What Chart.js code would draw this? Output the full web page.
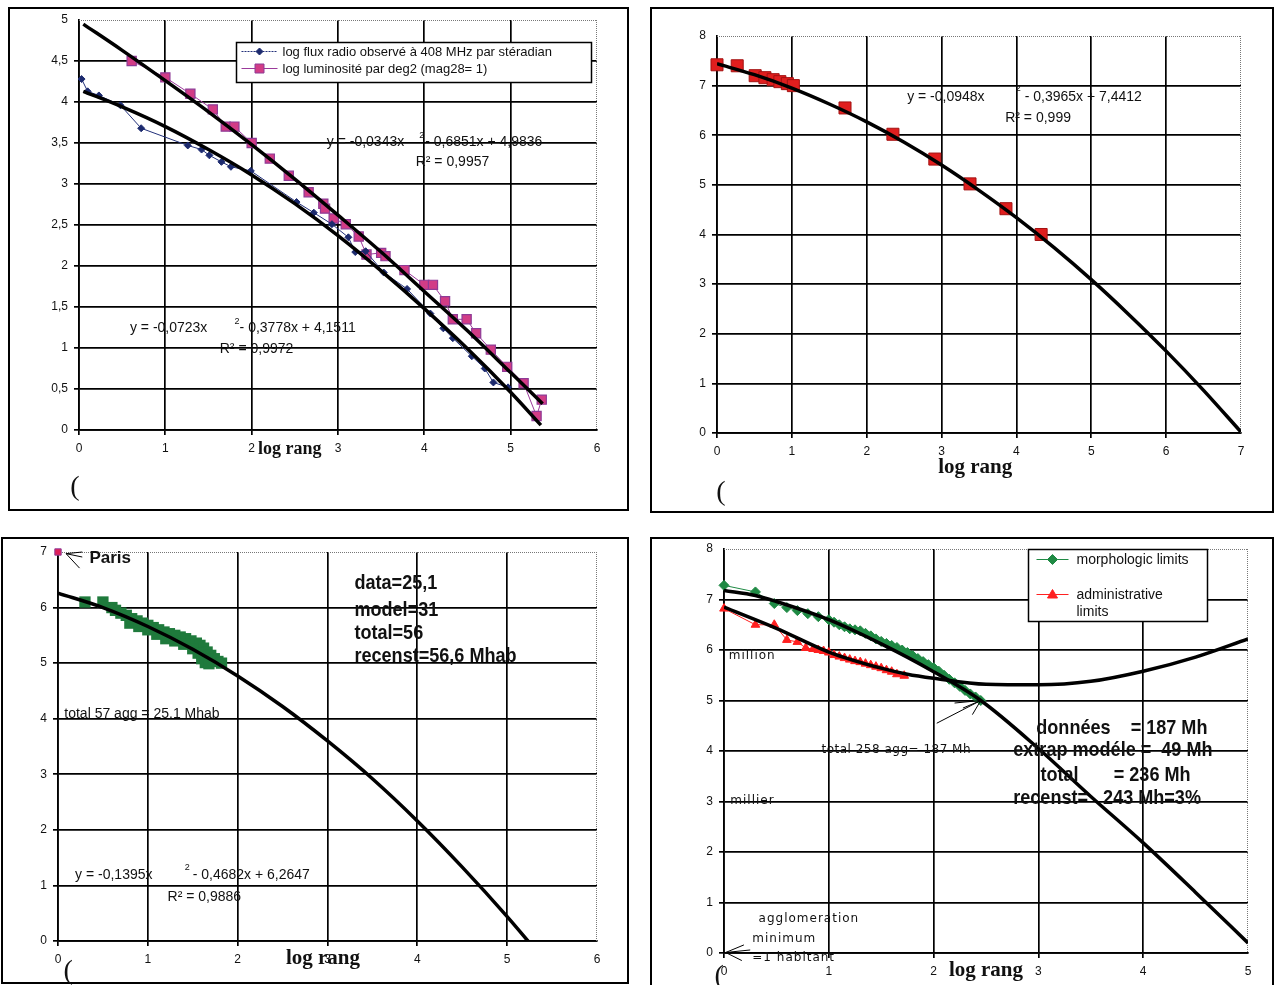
<!DOCTYPE html>
<html>
<head>
<meta charset="utf-8">
<script src="https://cdn.jsdelivr.net/npm/chart.js@4.4.1/dist/chart.umd.min.js"></script>
<style>
  body { margin: 0; background: #fff; width: 1275px; height: 985px; overflow: hidden; position: relative; }
  .box { position: absolute; border: 2px solid #000; box-sizing: border-box; }
  canvas { position: absolute; }
</style>
</head>
<body>
<div class="box" style="left:8px;top:7px;width:621px;height:504px"></div>
<div class="box" style="left:650px;top:7px;width:624px;height:506px"></div>
<div class="box" style="left:1px;top:537px;width:628px;height:447px"></div>
<div class="box" style="left:650px;top:537px;width:624px;height:452px"></div>
<canvas id="c1"></canvas>
<canvas id="c2"></canvas>
<canvas id="c3"></canvas>
<canvas id="c4"></canvas>
<script>
// ---- panel 1 : radio flux / luminosity against log rank
const radioX = [0.03, 0.1, 0.23, 0.48, 0.72, 1.26, 1.42, 1.51, 1.65, 1.76, 1.99, 2.52, 2.72, 2.93, 3.12, 3.2, 3.32, 3.53, 3.8, 4.07, 4.22, 4.33, 4.55, 4.7, 4.8, 4.97];
const radioY = [4.28, 4.13, 4.08, 3.96, 3.68, 3.47, 3.42, 3.35, 3.27, 3.21, 3.16, 2.78, 2.65, 2.51, 2.35, 2.17, 2.18, 1.92, 1.72, 1.42, 1.24, 1.12, 0.9, 0.75, 0.58, 0.52];
const radioFitX = [0.05, 0.5, 1, 1.5, 2, 2.5, 3, 3.5, 4, 4.5, 5, 5.35];
const radioFitY = [4.13, 3.94, 3.70, 3.42, 3.11, 2.76, 2.37, 1.94, 1.48, 0.99, 0.46, 0.06];
const lumX = [0.61, 1.0, 1.29, 1.55, 1.7, 1.8, 2.0, 2.21, 2.43, 2.66, 2.83, 2.85, 2.95, 3.09, 3.24, 3.33, 3.5, 3.55, 3.77, 4.0, 4.1, 4.24, 4.33, 4.49, 4.6, 4.77, 4.96, 5.15, 5.3, 5.36];
const lumY = [4.5, 4.3, 4.1, 3.91, 3.7, 3.7, 3.5, 3.31, 3.1, 2.9, 2.76, 2.7, 2.58, 2.51, 2.36, 2.14, 2.16, 2.12, 1.95, 1.77, 1.77, 1.57, 1.35, 1.35, 1.18, 0.98, 0.77, 0.57, 0.17, 0.37];
const lumFitX = [0.05, 0.5, 1, 1.5, 2, 2.5, 3, 3.5, 4, 4.5, 5, 5.37];
const lumFitY = [4.95, 4.63, 4.26, 3.88, 3.48, 3.06, 2.62, 2.17, 1.69, 1.21, 0.70, 0.32];
const p1xTicks = ['0', '1', '2', '3', '4', '5', '6'];
const p1yTicks = ['0', '0,5', '1', '1,5', '2', '2,5', '3', '3,5', '4', '4,5', '5'];

// ---- panel 2
const cityX = [0, 0.27, 0.51, 0.64, 0.75, 0.84, 0.94, 1.02, 1.71, 2.35, 2.91, 3.38, 3.86, 4.33];
const cityY = [7.42, 7.4, 7.2, 7.16, 7.12, 7.08, 7.04, 7.0, 6.55, 6.02, 5.52, 5.02, 4.52, 4.0];
const cityFitX = [0, 0.5, 1, 1.5, 2, 2.5, 3, 3.5, 4, 4.5, 5, 5.5, 6, 6.5, 7];
const cityFitY = [7.44, 7.22, 6.95, 6.63, 6.27, 5.86, 5.40, 4.89, 4.34, 3.74, 3.09, 2.39, 1.65, 0.86, 0.02];
const p2xTicks = ['0', '1', '2', '3', '4', '5', '6', '7'];
const p2yTicks = ['0', '1', '2', '3', '4', '5', '6', '7', '8'];

// ---- panel 3 : France
const franceX = [0.3, 0.5, 0.6, 0.64, 0.7, 0.76, 0.82, 0.88, 0.94, 1.0, 1.06, 1.12, 1.18, 1.24, 1.3, 1.36, 1.42, 1.48, 1.54, 1.58, 1.62, 1.66, 1.7, 1.74, 1.78, 1.82, 0.8, 0.9, 1.0, 1.1, 1.2, 1.3, 1.4, 1.5, 1.56, 1.6, 1.64, 1.68];
const franceY = [6.1, 6.1, 6.0, 5.95, 5.9, 5.86, 5.8, 5.76, 5.72, 5.68, 5.64, 5.6, 5.56, 5.53, 5.5, 5.47, 5.44, 5.4, 5.36, 5.32, 5.27, 5.2, 5.14, 5.08, 5.03, 5.0, 5.72, 5.66, 5.6, 5.52, 5.44, 5.4, 5.34, 5.26, 5.18, 5.08, 5.01, 4.99];
const parisX = [0];
const parisY = [7.0];
const franceFitX = [0, 0.5, 1, 1.5, 2, 2.5, 3, 3.5, 4, 4.5, 5, 5.3];
const franceFitY = [6.26, 6.00, 5.66, 5.25, 4.77, 4.22, 3.60, 2.92, 2.16, 1.33, 0.44, -0.13];
const p3xTicks = ['0', '1', '2', '3', '4', '5', '6'];
const p3yTicks = ['0', '1', '2', '3', '4', '5', '6', '7'];

// ---- panel 4 : morphologic vs administrative limits
const morphX = [0, 0.3, 0.48, 0.6, 0.7, 0.8, 0.9, 1.0, 1.05, 1.1, 1.15, 1.2, 1.25, 1.3, 1.35, 1.4, 1.45, 1.5, 1.55, 1.6, 1.65, 1.7, 1.75, 1.8, 1.85, 1.9, 1.95, 2.0, 2.05, 2.1, 2.15, 2.2, 2.25, 2.3, 2.35, 2.4, 2.45];
const morphY = [7.28, 7.15, 6.92, 6.84, 6.78, 6.72, 6.66, 6.6, 6.55, 6.5, 6.46, 6.42, 6.4, 6.38, 6.33, 6.28, 6.22, 6.17, 6.13, 6.09, 6.05, 6.0, 5.95, 5.89, 5.83, 5.77, 5.71, 5.65, 5.58, 5.5, 5.42, 5.35, 5.28, 5.2, 5.13, 5.07, 5.0];
const adminX = [0, 0.3, 0.48, 0.6, 0.7, 0.78, 0.85, 0.9, 0.95, 1.0, 1.05, 1.1, 1.15, 1.2, 1.25, 1.3, 1.35, 1.4, 1.45, 1.5, 1.55, 1.6, 1.65, 1.72];
const adminY = [6.82, 6.5, 6.5, 6.2, 6.16, 6.04, 6.02, 6.0, 5.98, 5.95, 5.9, 5.87, 5.84, 5.81, 5.78, 5.76, 5.73, 5.7, 5.67, 5.64, 5.6, 5.57, 5.52, 5.49];
const morphFitX = [0, 0.3, 0.5, 1, 1.5, 2, 2.45, 3, 3.5, 4, 4.5, 5];
const morphFitY = [7.18, 7.08, 6.96, 6.6, 6.12, 5.57, 5.0, 4.05, 3.1, 2.18, 1.2, 0.2];
const adminFitX = [0, 0.5, 1, 1.5, 1.75, 2, 2.5, 3, 3.5, 4, 4.5, 5];
const adminFitY = [6.85, 6.43, 5.96, 5.64, 5.52, 5.44, 5.32, 5.31, 5.38, 5.58, 5.86, 6.22];
const p4xTicks = ['0', '1', '2', '3', '4', '5'];
const p4yTicks = ['0', '1', '2', '3', '4', '5', '6', '7', '8'];

const SANS = '"Liberation Sans", Arial, sans-serif';
const SERIF = '"Liberation Serif", "Times New Roman", serif';
const VERD = '"DejaVu Sans", Verdana, sans-serif';
const YW = 50, PT = 10, PR = 16, XH = 75;

function pts(xs, ys) {
  return xs.map((x, i) => ({ x: x, y: ys[i] }));
}

function marker(ctx, style, x, y, r, fill, stroke) {
  ctx.beginPath();
  if (style === 'rect') {
    ctx.rect(x - r, y - r, 2 * r, 2 * r);
  } else if (style === 'rectRot') {
    ctx.moveTo(x, y - r); ctx.lineTo(x + r, y); ctx.lineTo(x, y + r); ctx.lineTo(x - r, y); ctx.closePath();
  } else {
    ctx.moveTo(x, y - r); ctx.lineTo(x + r, y + r * 0.7); ctx.lineTo(x - r, y + r * 0.7); ctx.closePath();
  }
  ctx.fillStyle = fill; ctx.fill();
  ctx.strokeStyle = stroke; ctx.lineWidth = 1; ctx.stroke();
}

// dotted top/right frame like the old spreadsheet charts
const framePlugin = {
  id: 'frame',
  beforeDatasetsDraw(chart) {
    const ctx = chart.ctx, a = chart.chartArea;
    ctx.save();
    ctx.strokeStyle = '#777';
    ctx.lineWidth = 1;
    ctx.setLineDash([1, 1]);
    ctx.beginPath();
    ctx.moveTo(a.left, a.top + 0.5); ctx.lineTo(a.right, a.top + 0.5);
    ctx.moveTo(a.right - 0.5, a.top); ctx.lineTo(a.right - 0.5, a.bottom);
    ctx.stroke();
    ctx.restore();
  }
};

function notes(cfg) {
  return {
    id: 'notes',
    afterDraw(chart) {
      const ctx = chart.ctx;
      const px = v => chart.scales.x.getPixelForValue(v);
      const py = v => chart.scales.y.getPixelForValue(v);
      ctx.save();
      (cfg.arrows || []).forEach(a => {
        ctx.strokeStyle = '#000';
        ctx.lineWidth = 1;
        ctx.beginPath();
        a.tails.forEach(t => {
          ctx.moveTo(px(a.tip[0]), py(a.tip[1]));
          ctx.lineTo(px(t[0]), py(t[1]));
        });
        ctx.stroke();
      });
      (cfg.texts || []).forEach(t => {
        ctx.save();
        ctx.font = t.font;
        ctx.fillStyle = t.color || '#111';
        ctx.letterSpacing = t.spacing || '0px';
        ctx.textAlign = t.align || 'left';
        ctx.textBaseline = 'middle';
        ctx.translate(px(t.at[0]), py(t.at[1]));
        ctx.scale(t.sx || 1, 1);
        ctx.fillText(t.text, 0, 0);
        ctx.restore();
      });
      const lg = cfg.legend;
      if (lg) {
        const x1 = Math.round(px(lg.box[0])) + 0.5, y1 = Math.round(py(lg.box[1])) + 0.5;
        const x2 = Math.round(px(lg.box[2])) + 0.5, y2 = Math.round(py(lg.box[3])) + 0.5;
        ctx.fillStyle = '#fff';
        ctx.fillRect(x1, y1, x2 - x1, y2 - y1);
        ctx.strokeStyle = '#000';
        ctx.lineWidth = 1.5;
        ctx.strokeRect(x1, y1, x2 - x1, y2 - y1);
        lg.items.forEach(it => {
          const y = y1 + it.dy;
          ctx.strokeStyle = it.lineColor;
          ctx.lineWidth = 1;
          ctx.setLineDash(it.dash || []);
          ctx.beginPath();
          ctx.moveTo(x1 + lg.lineFrom, y); ctx.lineTo(x1 + lg.lineTo, y);
          ctx.stroke();
          ctx.setLineDash([]);
          marker(ctx, it.style, x1 + (lg.lineFrom + lg.lineTo) / 2, y, it.r, it.fill, it.stroke);
          ctx.font = lg.font;
          ctx.fillStyle = '#111';
          ctx.textAlign = 'left';
          ctx.textBaseline = 'middle';
          it.text.forEach((line, k) => ctx.fillText(line, x1 + lg.textAt, y + 1 + k * lg.lineGap));
        });
      }
      ctx.restore();
    }
  };
}

function axis(min, max, step, labels, isX) {
  return {
    type: 'linear',
    min: min,
    max: max,
    ticks: {
      stepSize: step,
      autoSkip: false,
      maxRotation: 0,
      padding: 6,
      color: '#111',
      font: { family: SANS, size: 12 },
      callback: (v, i) => labels[i]
    },
    grid: {
      color: c => (c.tick && Math.abs(c.tick.value - max) < 1e-9) ? 'rgba(0,0,0,0)' : '#000',
      lineWidth: 1.7,
      tickLength: 5
    },
    border: { color: '#000', width: 1.7 },
    afterFit: s => {
      if (isX) { s.height = XH; s.paddingLeft = 0; s.paddingRight = 0; }
      else { s.width = YW; s.paddingTop = 0; s.paddingBottom = 0; }
    }
  };
}

function panel(id, area, xr, yr, xLabels, yLabels, datasets, cfg) {
  const canvas = document.getElementById(id);
  canvas.width = area.R - area.L + YW + PR;
  canvas.height = area.B - area.T + PT + XH;
  canvas.style.left = (area.L - YW) + 'px';
  canvas.style.top = (area.T - PT) + 'px';
  return new Chart(canvas.getContext('2d'), {
    type: 'scatter',
    data: { datasets: datasets },
    options: {
      responsive: false,
      animation: false,
      devicePixelRatio: 1,
      events: [],
      layout: { padding: { left: 0, top: PT, right: PR, bottom: 0 } },
      plugins: { legend: { display: false }, tooltip: { enabled: false } },
      scales: {
        x: axis(xr[0], xr[1], 1, xLabels, true),
        y: axis(yr[0], yr[1], yr[2], yLabels, false)
      }
    },
    plugins: [framePlugin, notes(cfg)]
  });
}

function fitLine(xs, ys) {
  return {
    data: pts(xs, ys), showLine: true, pointRadius: 0, borderColor: '#000',
    borderWidth: 3.5, cubicInterpolationMode: 'monotone', order: 0
  };
}

const EQ = '14px ' + SANS;
const SUP = '9px ' + SANS;
const LOGRANG = 'bold 21px ' + SERIF;
const PAREN = '28px ' + SERIF;
const BIG = 'bold 21px ' + SANS;
const SQ = 0.86;
const SMALL = '12px ' + VERD;

panel('c1', { L: 79, R: 597, T: 20, B: 430 }, [0, 6], [0, 5, 0.5], p1xTicks, p1yTicks, [
  fitLine(lumFitX, lumFitY),
  fitLine(radioFitX, radioFitY),
  { data: pts(radioX, radioY), showLine: true, borderColor: '#22307a', borderWidth: 1, pointStyle: 'rectRot',
    pointRadius: 3.5, pointBackgroundColor: '#1c2a6e', pointBorderColor: '#1c2a6e', clip: false, order: 1 },
  { data: pts(lumX, lumY), showLine: true, borderColor: '#9b3a9b', borderWidth: 1, pointStyle: 'rect',
    pointRadius: 6.5, pointBackgroundColor: '#d23c86', pointBorderColor: '#8e3a96', pointBorderWidth: 1.2, clip: false, order: 1 }
], {
  texts: [
    { text: 'y = -0,0343x', at: [2.87, 3.51], font: EQ },
    { text: '2', at: [3.94, 3.59], font: SUP },
    { text: '- 0,6851x + 4,9836', at: [4.01, 3.51], font: EQ },
    { text: 'R² = 0,9957', at: [3.9, 3.27], font: EQ },
    { text: 'y = -0,0723x', at: [0.59, 1.24], font: EQ },
    { text: '2', at: [1.8, 1.32], font: SUP },
    { text: '- 0,3778x + 4,1511', at: [1.86, 1.24], font: EQ },
    { text: 'R² = 0,9972', at: [1.63, 0.99], font: EQ },
    { text: 'log rang', at: [2.44, -0.23], font: 'bold 18px ' + SERIF, align: 'center' },
    { text: '(', at: [-0.1, -0.7], font: PAREN }
  ],
  legend: {
    box: [1.82, 4.73, 5.93, 4.24], lineFrom: 5, lineTo: 41, textAt: 46, font: '13px ' + SANS, lineGap: 0,
    items: [
      { text: ['log flux radio observé à 408 MHz par stéradian'], dy: 9, style: 'rectRot', r: 3.5,
        fill: '#1c2a6e', stroke: '#1c2a6e', lineColor: '#22307a', dash: [2, 1] },
      { text: ['log luminosité par deg2 (mag28= 1)'], dy: 26, style: 'rect', r: 4.5,
        fill: '#d23c86', stroke: '#8e3a96', lineColor: '#9b3a9b' }
    ]
  }
});

panel('c2', { L: 717, R: 1241, T: 36, B: 433 }, [0, 7], [0, 8, 1], p2xTicks, p2yTicks, [
  fitLine(cityFitX, cityFitY),
  { data: pts(cityX, cityY), showLine: false, pointStyle: 'rect', pointRadius: 8.5,
    pointBackgroundColor: '#e01e1e', pointBorderColor: '#a31212', pointBorderWidth: 1, clip: false, order: 1 }
], {
  texts: [
    { text: 'y = -0,0948x', at: [2.54, 6.77], font: EQ },
    { text: '2', at: [3.99, 6.94], font: SUP },
    { text: '- 0,3965x + 7,4412', at: [4.11, 6.77], font: EQ },
    { text: 'R² = 0,999', at: [3.85, 6.35], font: EQ },
    { text: 'log rang', at: [3.45, -0.69], font: LOGRANG, align: 'center' },
    { text: '(', at: [-0.01, -1.21], font: PAREN }
  ]
});

panel('c3', { L: 58, R: 597, T: 552, B: 941 }, [0, 6], [0, 7, 1], p3xTicks, p3yTicks, [
  fitLine(franceFitX, franceFitY),
  { data: pts(franceX, franceY), showLine: false, pointStyle: 'rect', pointRadius: 8,
    pointBackgroundColor: '#1f7a3c', pointBorderColor: '#1f7a3c', pointBorderWidth: 0, clip: false, order: 1 },
  { data: pts(parisX, parisY), showLine: false, pointStyle: 'rect', pointRadius: 4.5,
    pointBackgroundColor: '#e0205a', pointBorderColor: '#8e3a96', pointBorderWidth: 1, clip: false, order: 1 }
], {
  arrows: [
    { tip: [0.09, 6.97], tails: [[0.27, 7.0], [0.27, 6.91], [0.24, 6.71]] }
  ],
  texts: [
    { text: 'Paris', at: [0.35, 6.88], font: 'bold 17px ' + SANS },
    { text: 'data=25,1', at: [3.3, 6.43], font: BIG, sx: SQ },
    { text: 'model=31', at: [3.3, 5.96], font: BIG, sx: SQ },
    { text: 'total=56', at: [3.3, 5.53], font: BIG, sx: SQ },
    { text: 'recenst=56,6 Mhab', at: [3.3, 5.12], font: BIG, sx: SQ },
    { text: 'total 57 agg = 25.1 Mhab', at: [0.07, 4.09], font: EQ },
    { text: 'y = -0,1395x', at: [0.19, 1.19], font: EQ },
    { text: '2', at: [1.41, 1.32], font: SUP },
    { text: '- 0,4682x + 6,2647', at: [1.5, 1.19], font: EQ },
    { text: 'R² = 0,9886', at: [1.22, 0.79], font: EQ },
    { text: 'log rang', at: [2.95, -0.31], font: LOGRANG, align: 'center' },
    { text: '(', at: [0.06, -0.56], font: PAREN }
  ]
});

panel('c4', { L: 724, R: 1248, T: 549, B: 953 }, [0, 5], [0, 8, 1], p4xTicks, p4yTicks, [
  fitLine(morphFitX, morphFitY),
  fitLine(adminFitX, adminFitY),
  { data: pts(morphX, morphY), showLine: true, borderColor: '#1f8a44', borderWidth: 1, pointStyle: 'rectRot',
    pointRadius: 5, pointBackgroundColor: '#1f8a44', pointBorderColor: '#1f8a44', clip: false, order: 1 },
  { data: pts(adminX, adminY), showLine: true, borderColor: '#ff2020', borderWidth: 1, pointStyle: 'triangle',
    pointRadius: 5, pointBackgroundColor: '#ff2020', pointBorderColor: '#ff2020', clip: false, order: 1 }
], {
  arrows: [
    { tip: [2.45, 5.0], tails: [[2.03, 4.55], [2.2, 4.95], [2.28, 4.85], [2.37, 4.72]] },
    { tip: [0.016, 0.01], tails: [[0.19, 0.16], [0.25, 0.06], [0.17, -0.15]] }
  ],
  texts: [
    { text: 'million', at: [0.045, 5.89], font: SMALL, spacing: '1px' },
    { text: 'millier', at: [0.06, 3.02], font: SMALL, spacing: '1px' },
    { text: 'total 258 agg= 187 Mh', at: [0.93, 4.03], font: SMALL, spacing: '0.5px' },
    { text: 'données    = 187 Mh', at: [2.98, 4.46], font: BIG, sx: SQ },
    { text: 'extrap modéle =  49 Mh', at: [2.76, 4.01], font: BIG, sx: SQ },
    { text: 'total       = 236 Mh', at: [3.02, 3.53], font: BIG, sx: SQ },
    { text: 'recenst=   243 Mh=3%', at: [2.76, 3.06], font: BIG, sx: SQ },
    { text: 'agglomeration', at: [0.33, 0.67], font: SMALL, spacing: '1px' },
    { text: 'minimum', at: [0.27, 0.28], font: SMALL, spacing: '1px' },
    { text: '=1 habitant', at: [0.27, -0.1], font: SMALL, spacing: '1px' },
    { text: 'log rang', at: [2.5, -0.34], font: LOGRANG, align: 'center' },
    { text: '(', at: [-0.09, -0.46], font: PAREN }
  ],
  legend: {
    box: [2.9, 8.0, 4.61, 6.57], lineFrom: 8, lineTo: 40, textAt: 48, font: '14px ' + SANS, lineGap: 17,
    items: [
      { text: ['morphologic limits'], dy: 10, style: 'rectRot', r: 5, fill: '#1f8a44', stroke: '#1f8a44', lineColor: '#1f8a44' },
      { text: ['administrative', 'limits'], dy: 45, style: 'triangle', r: 5, fill: '#ff2020', stroke: '#ff2020', lineColor: '#ff2020' }
    ]
  }
});
</script>
</body>
</html>
